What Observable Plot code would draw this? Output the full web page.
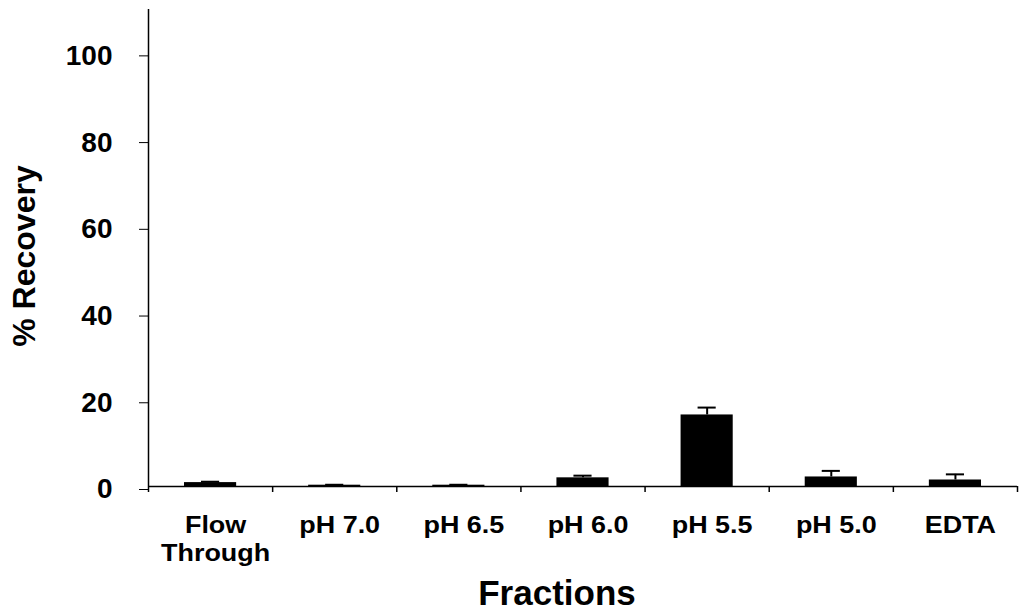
<!DOCTYPE html>
<html>
<head>
<meta charset="utf-8">
<script src="https://cdn.jsdelivr.net/npm/d3@7"></script>
<script src="https://cdn.jsdelivr.net/npm/@observablehq/plot@0.6"></script>
<style>
  body { margin: 0; background: #fff; }
</style>
</head>
<body>
<div id="chart"></div>
<script>
const categories = ["Flow\nThrough", "pH 7.0", "pH 6.5", "pH 6.0", "pH 5.5", "pH 5.0", "EDTA"];
const recovery = [0.9, 0.3, 0.3, 2.0, 16.5, 2.2, 1.5];
const errors = [0.2, 0.1, 0.1, 0.5, 1.7, 1.4, 1.3];
const yTicks = [0, 20, 40, 60, 80, 100];
const boundaries = d3.range(categories.length + 1);

const data = categories.map((c, i) => ({
  cat: c,
  pos: i + 0.5,
  value: recovery[i],
  upper: recovery[i] + errors[i]
}));

const halfBar = 0.21;
const halfCap = 0.073;

const chart = Plot.plot({
  width: 1030,
  height: 612,
  marginLeft: 148,
  marginRight: 13,
  marginTop: 9,
  marginBottom: 126,
  style: { fontFamily: "'Liberation Sans', Arial, sans-serif", background: "#fff", color: "#000" },
  x: { type: "linear", domain: [0, categories.length], axis: null },
  y: { domain: [0, 110], axis: null },
  marks: [
    Plot.axisX({ ticks: boundaries, tickSize: 6, tickFormat: () => "", label: null, strokeWidth: 1.5 }),
    Plot.axisY({ ticks: yTicks, tickSize: 9, tickPadding: 27, label: null, fontSize: 28, fontWeight: "bold", dy: 3 }),
    Plot.rectY(data, { x1: d => d.pos - halfBar, x2: d => d.pos + halfBar, y1: 0, y2: "value", fill: "#000" }),
    Plot.ruleX(data, { x: "pos", y1: "value", y2: "upper", stroke: "#000", strokeWidth: 2 }),
    Plot.ruleY(data, { y: "upper", x1: d => d.pos - halfCap, x2: d => d.pos + halfCap, stroke: "#000", strokeWidth: 2 }),
    Plot.ruleY([0], { stroke: "#000", strokeWidth: 1.5 }),
    Plot.ruleX([0], { y1: 0, y2: 110, stroke: "#000", strokeWidth: 1.5 }),
    Plot.text(data, { x: "pos", y: 0, text: "cat", lineAnchor: "top", dy: 27, dx: 5, fontSize: 23, fontWeight: "bold", lineHeight: 1.22, ariaDescription: "x-labels" }),
    Plot.text(["% Recovery"], { frameAnchor: "left", textAnchor: "middle", rotate: -90, dx: -124, dy: 8, fontSize: 32, fontWeight: "bold" }),
    Plot.text(["Fractions"], { frameAnchor: "bottom", lineAnchor: "bottom", dx: -26, dy: 118, fontSize: 35, fontWeight: "bold" })
  ]
});

document.getElementById("chart").appendChild(chart);

// stretch the category labels horizontally around their own centre
d3.select(chart).selectAll('g[aria-description="x-labels"] text').each(function () {
  const b = this.getBBox();
  const cx = b.x + b.width / 2;
  const t = this.getAttribute("transform") || "";
  this.setAttribute("transform", `${t} translate(${cx},0) scale(1.17,1) translate(${-cx},0)`);
});
</script>
</body>
</html>
